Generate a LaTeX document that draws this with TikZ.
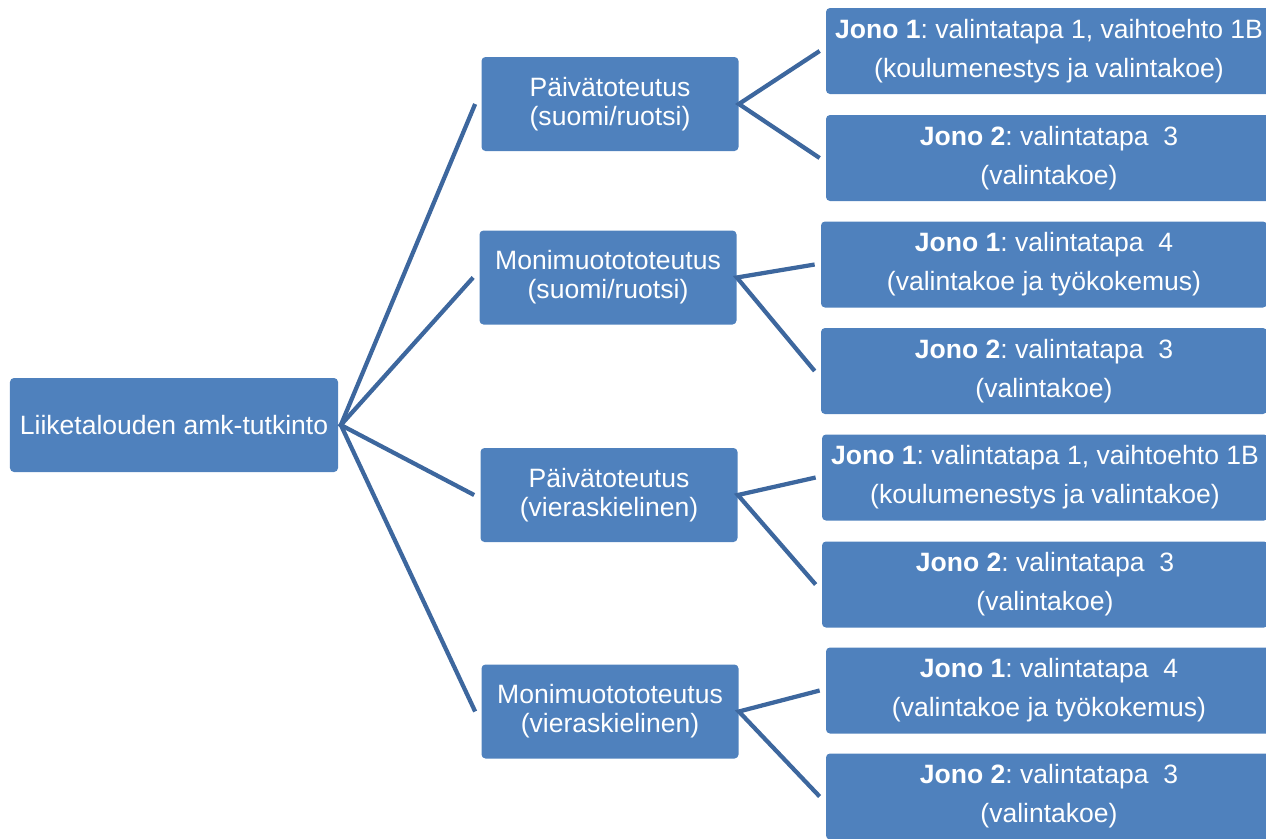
\documentclass[tikz,border=0pt]{standalone}
\usepackage{fontspec}
\setmainfont{Liberation Sans}
\frenchspacing
\definecolor{boxblue}{HTML}{4F81BD}
\definecolor{lineblue}{HTML}{3D679E}
\begin{document}
\begin{tikzpicture}[x=.2mm,y=-.2mm,
		box/.style={fill=boxblue,rounded corners=.8mm,text=white,align=center,inner sep=0pt},
		rootbox/.style={box,minimum width=65.6mm,minimum height=18.8mm,
			font=\fontsize{15.1}{18}\selectfont},
		toteutus/.style={box,minimum width=51.4mm,minimum height=18.8mm,
			font=\fontsize{15.1}{16.6}\selectfont},
		jono/.style={box,minimum width=89.2mm,minimum height=17.2mm,
			font=\fontsize{15.1}{22.2}\selectfont},
		conn/.style={draw=lineblue,line width=.85mm}]
	\clip (0,0) rectangle (1266,838);
	% koulutus
	\node[rootbox] (root) at (174,425) {Liiketalouden amk-tutkinto};
	% toteutukset
	\node[toteutus] (paiva1) at (610,104) {Päivätoteutus\\(suomi/ruotsi)};
	\node[toteutus] (moni1) at (608,277.5) {Monimuotototeutus\\(suomi/ruotsi)};
	\node[toteutus] (paiva2) at (609,495) {Päivätoteutus\\(vieraskielinen)};
	\node[toteutus] (moni2) at (610,711.5) {Monimuotototeutus\\(vieraskielinen)};
	% jonot
	\node[jono] (jono11) at (1049,51)
		{\textbf{Jono 1}: valintatapa 1, vaihtoehto 1B\\(koulumenestys ja valintakoe)};
	\node[jono] (jono12) at (1049,158)
		{\textbf{Jono 2}: valintatapa\ \ 3\\(valintakoe)};
	\node[jono] (jono21) at (1044,264.5)
		{\textbf{Jono 1}: valintatapa\ \ 4\\(valintakoe ja työkokemus)};
	\node[jono] (jono22) at (1044,371)
		{\textbf{Jono 2}: valintatapa\ \ 3\\(valintakoe)};
	\node[jono] (jono31) at (1045,477.5)
		{\textbf{Jono 1}: valintatapa 1, vaihtoehto 1B\\(koulumenestys ja valintakoe)};
	\node[jono] (jono32) at (1045,584.5)
		{\textbf{Jono 2}: valintatapa\ \ 3\\(valintakoe)};
	\node[jono] (jono41) at (1049,690.5)
		{\textbf{Jono 1}: valintatapa\ \ 4\\(valintakoe ja työkokemus)};
	\node[jono] (jono42) at (1049,796.5)
		{\textbf{Jono 2}: valintatapa\ \ 3\\(valintakoe)};
	% viivat
	\draw[conn] ([xshift=-1.2mm]paiva1.west) -- ([xshift=.5mm]root.east)
		-- ([xshift=-1.2mm]moni2.west);
	\draw[conn] ([xshift=-1.2mm]moni1.west) -- ([xshift=.5mm]root.east)
		-- ([xshift=-1.2mm]paiva2.west);
	\draw[conn] ([xshift=-1.2mm]jono11.west) -- (paiva1.east)
		-- ([xshift=-1.2mm]jono12.west);
	\draw[conn] ([xshift=-1.2mm]jono21.west) -- (moni1.east)
		-- ([xshift=-1.2mm]jono22.west);
	\draw[conn] ([xshift=-1.2mm]jono31.west) -- (paiva2.east)
		-- ([xshift=-1.2mm]jono32.west);
	\draw[conn] ([xshift=-1.2mm]jono41.west) -- (moni2.east)
		-- ([xshift=-1.2mm]jono42.west);
\end{tikzpicture}
\end{document}
